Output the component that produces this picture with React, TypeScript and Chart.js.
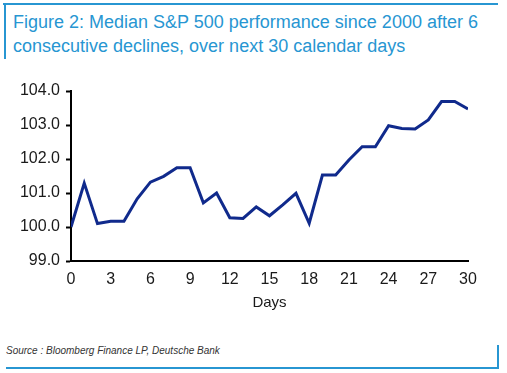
import React, { useEffect, useRef } from "react";
import { Chart, registerables } from "chart.js";

Chart.register(...registerables);

const days: number[] = [0,1,2,3,4,5,6,7,8,9,10,11,12,13,14,15,16,17,18,19,20,21,22,23,24,25,26,27,28,29,30];
const values: number[] = [100.0,101.29,100.10,100.17,100.17,100.83,101.32,101.49,101.74,101.74,100.71,101.0,100.27,100.25,100.59,100.33,100.65,100.99,100.11,101.53,101.53,101.97,102.36,102.36,102.98,102.90,102.88,103.15,103.69,103.69,103.47];
const titleLines: string[] = ["Figure 2: Median S&P 500 performance since 2000 after 6", "consecutive declines, over next 30 calendar days"];
const sourceText = "Source : Bloomberg Finance LP, Deutsche Bank";
const xTitle = "Days";

const BLUE = "#2796d2";
const FONT = "'Liberation Sans', Arial, sans-serif";

export default function App() {
  const ref = useRef<HTMLCanvasElement | null>(null);
  useEffect(() => {
    document.body.style.margin = "0";
    if (!ref.current) return;
    const chart = new Chart(ref.current, {
      type: "line",
      data: {
        datasets: [
          {
            data: days.map((d, i) => ({ x: d, y: values[i] })),
            borderColor: "#102a8c",
            borderWidth: 3,
            pointRadius: 0,
            tension: 0,
            fill: false,
          },
        ],
      },
      options: {
        animation: false,
        responsive: false,
        maintainAspectRatio: false,
        layout: { padding: { top: 31, left: 0, right: 39, bottom: 0 } },
        plugins: { legend: { display: false }, tooltip: { enabled: false } },
        scales: {
          x: {
            type: "linear",
            min: 0,
            max: 30,
            afterFit: (s: any) => { s.height = 59; },
            grid: { display: false, drawOnChartArea: false, drawTicks: true, tickLength: 5, tickColor: "#000", tickWidth: 2 },
            border: { display: true, color: "#000", width: 2 },
            ticks: { stepSize: 3, padding: 4, color: "#1a1a1a", font: { family: FONT, size: 16 }, maxRotation: 0 },
            title: { display: true, text: xTitle, color: "#1a1a1a", font: { family: FONT, size: 15 }, padding: { top: 0, bottom: 8 } },
          },
          y: {
            min: 99,
            max: 104,
            afterFit: (s: any) => { s.width = 71; },
            grid: { display: true, drawOnChartArea: false, drawTicks: true, tickLength: 5, tickColor: "#000", tickWidth: 2 },
            border: { display: true, color: "#000", width: 2 },
            ticks: { stepSize: 1, padding: 6, color: "#1a1a1a", font: { family: FONT, size: 16 }, callback: (v: any) => Number(v).toFixed(1) },
          },
        },
      },
    } as any);
    return () => chart.destroy();
  }, []);

  return (
    <div style={{ position: "fixed", left: 0, top: 0, width: 507, height: 373, background: "#fff", overflow: "hidden" }}>
      <div style={{ position: "absolute", left: 3, top: 3, width: 495, height: 2, background: BLUE }} />
      <div style={{ position: "absolute", left: 4, top: 3, width: 2, height: 56, background: BLUE }} />
      <div style={{ position: "absolute", left: 13, top: 10, fontFamily: FONT, fontSize: 18, lineHeight: "24px", color: BLUE, whiteSpace: "nowrap" }}>
        {titleLines.map((t, i) => (<div key={i}>{t}</div>))}
      </div>
      <canvas ref={ref} width={507} height={260} style={{ position: "absolute", left: 0, top: 60, width: 507, height: 260 }} />
      <div style={{ position: "absolute", left: 6, top: 345, fontFamily: FONT, fontSize: 10, fontStyle: "italic", color: "#333", whiteSpace: "nowrap" }}>{sourceText}</div>
      <div style={{ position: "absolute", left: 497, top: 345, width: 2, height: 24, background: BLUE }} />
      <div style={{ position: "absolute", left: 6, top: 367, width: 493, height: 2, background: BLUE }} />
    </div>
  );
}
